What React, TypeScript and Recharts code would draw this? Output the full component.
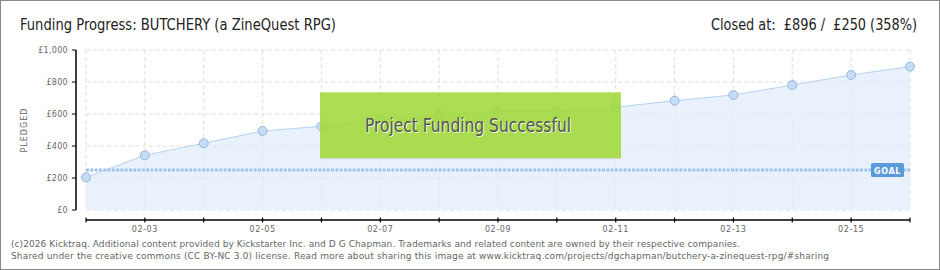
import { AreaChart, Area, XAxis, YAxis, CartesianGrid, ReferenceLine, usePlotArea } from 'recharts'

const dates = [
  '02-02', '02-03', '02-04', '02-05', '02-06', '02-07', '02-08', '02-09',
  '02-10', '02-11', '02-12', '02-13', '02-14', '02-15', '02-16',
]
const pledged = [204, 342, 417, 494, 523, 567, 594, 615, 615, 642, 683, 719, 781, 844, 896]
const yTicks = [0, 100, 200, 300, 400, 500, 600, 700, 800, 900, 1000]
const gridValues = [0, 200, 400, 600, 800, 1000]
const goal = 250

const title = 'Funding Progress: BUTCHERY (a ZineQuest RPG)'
const closedText = 'Closed at:  £896 /  £250 (358%)'
const bannerText = 'Project Funding Successful'
const footerLines = [
  '(c)2026 Kicktraq. Additional content provided by Kickstarter Inc. and D G Chapman. Trademarks and related content are owned by their respective companies.',
  'Shared under the creative commons (CC BY-NC 3.0) license. Read more about sharing this image at www.kicktraq.com/projects/dgchapman/butchery-a-zinequest-rpg/#sharing',
]

const data = dates.map((date, i) => ({ date, pledged: pledged[i] }))

const headFont = '"DejaVu Sans Condensed", "Liberation Sans", sans-serif'
const tickFont = '"DejaVu Sans", sans-serif'

const money = (v: number) => '£' + v.toLocaleString('en-US')

const YTick = (props: any) => {
  const { x, y, payload } = props
  const v = payload.value as number
  const major = v % 200 === 0
  return (
    <g>
      <line x1={x - 14} x2={x - 10} y1={y} y2={y} stroke={major ? '#000' : '#e00000'} strokeWidth={1} />
      {major && (
        <text x={x - 18} y={y + 3} textAnchor="end" fontFamily={tickFont} fontSize={8} fill="#666" letterSpacing={0.3}>
          {money(v)}
        </text>
      )}
    </g>
  )
}

const XTick = (props: any) => {
  const { x, y, payload } = props
  const idx = dates.indexOf(payload.value)
  return (
    <g>
      <line x1={x} x2={x} y1={y + 7.5} y2={y + 12.5} stroke="#000" strokeWidth={1.2} />
      {idx % 2 === 1 && (
        <text x={x} y={y + 21.5} textAnchor="middle" fontFamily={tickFont} fontSize={8} fill="#666" letterSpacing={0.6}>
          {payload.value}
        </text>
      )}
    </g>
  )
}

const GoalLabel = (props: any) => {
  const vb = props.viewBox
  if (!vb) return null
  const right = vb.x + vb.width
  return (
    <g>
      <rect x={right - 39} y={vb.y - 7} width={33} height={14} rx={1.5} fill="#5b9bd9" />
      <text x={right - 22.5} y={vb.y + 3.5} textAnchor="middle" fontFamily={tickFont} fontSize={8} fontWeight="bold" fill="#fff" letterSpacing={0.6}>
        GOAL
      </text>
    </g>
  )
}

// axis lines sit 10px off the plot, plus the texts around it
const Decor = () => {
  const plot = usePlotArea()
  if (!plot) return null
  const { x, y, width, height } = plot
  return (
    <g>
      <line x1={x - 10} x2={x - 10} y1={y} y2={y + height} stroke="#000" strokeWidth={1.5} />
      <line x1={x} x2={x + width} y1={y + height + 10} y2={y + height + 10} stroke="#000" strokeWidth={1.5} />
      <text
        x={x - 59}
        y={y + height / 2}
        transform={`rotate(-90 ${x - 59} ${y + height / 2})`}
        textAnchor="middle"
        fontFamily={tickFont}
        fontSize={8}
        fill="#666"
        letterSpacing={1}
      >
        PLEDGED
      </text>
      <text x={20} y={30} fontFamily={headFont} fontSize={16} fill="#222" textLength={316} lengthAdjust="spacingAndGlyphs">
        {title}
      </text>
      <text x={711} y={30} fontFamily={headFont} fontSize={16} fill="#222" textLength={206} lengthAdjust="spacingAndGlyphs" style={{ whiteSpace: 'pre' }}>
        {closedText}
      </text>
      {footerLines.map((line, i) => (
        <text key={i} x={11} y={246.5 + i * 12.5} fontFamily={tickFont} fontSize={9} fill="#666" textLength={i === 0 ? 729 : 818} lengthAdjust="spacing">
          {line}
        </text>
      ))}
    </g>
  )
}

const App = () => {
  return (
    <div style={{ position: 'absolute', left: 0, top: 0, width: 940, height: 270, background: '#fff' }}>
      <AreaChart width={940} height={270} data={data} margin={{ top: 50, right: 30, bottom: 0, left: 0 }}>
        <CartesianGrid stroke="#dedede" strokeDasharray="4 3" horizontalValues={gridValues} />
        <XAxis
          dataKey="date"
          interval={0}
          height={60}
          axisLine={false}
          tickLine={false}
          tickSize={0}
          tickMargin={0}
          tick={<XTick />}
        />
        <YAxis
          domain={[0, 1000]}
          ticks={yTicks}
          width={86}
          axisLine={false}
          tickLine={false}
          tickSize={0}
          tickMargin={0}
          tick={<YTick />}
        />
        <Area
          type="linear"
          dataKey="pledged"
          stroke="#b3d4f4"
          strokeWidth={1}
          fill="#e1eefb"
          fillOpacity={0.75}
          dot={{ r: 4.5, fill: '#c6dcf6', stroke: '#96b7dc', strokeWidth: 1, fillOpacity: 1 }}
          activeDot={false}
          isAnimationActive={false}
        />
        <ReferenceLine
          y={goal}
          stroke="#9fc4ec"
          strokeWidth={3}
          strokeDasharray="3 1.3"
          label={<GoalLabel />}
        />
        <Decor />
      </AreaChart>

      {/* "funded" banner laid over the chart */}
      <svg width={940} height={270} style={{ position: 'absolute', left: 0, top: 0, pointerEvents: 'none' }}>
        <rect x={320} y={92} width={301} height={66} fill="#a3d93f" fillOpacity={0.9} />
        <line x1={320} x2={621} y1={92.5} y2={92.5} stroke="#c4ea86" />
        <line x1={320} x2={621} y1={158.5} y2={158.5} stroke="#d4d4d4" />
        <text x={366} y={133} fontFamily={headFont} fontSize={19} fill="#fff" opacity={0.8} textLength={206} lengthAdjust="spacingAndGlyphs">
          {bannerText}
        </text>
        <text x={365} y={132} fontFamily={headFont} fontSize={19} fill="#555" textLength={206} lengthAdjust="spacingAndGlyphs">
          {bannerText}
        </text>
      </svg>

      <div
        style={{
          position: 'absolute',
          inset: 0,
          border: '1px solid #8a8a8a',
          boxSizing: 'border-box',
          pointerEvents: 'none',
        }}
      />
    </div>
  )
}

export default App
